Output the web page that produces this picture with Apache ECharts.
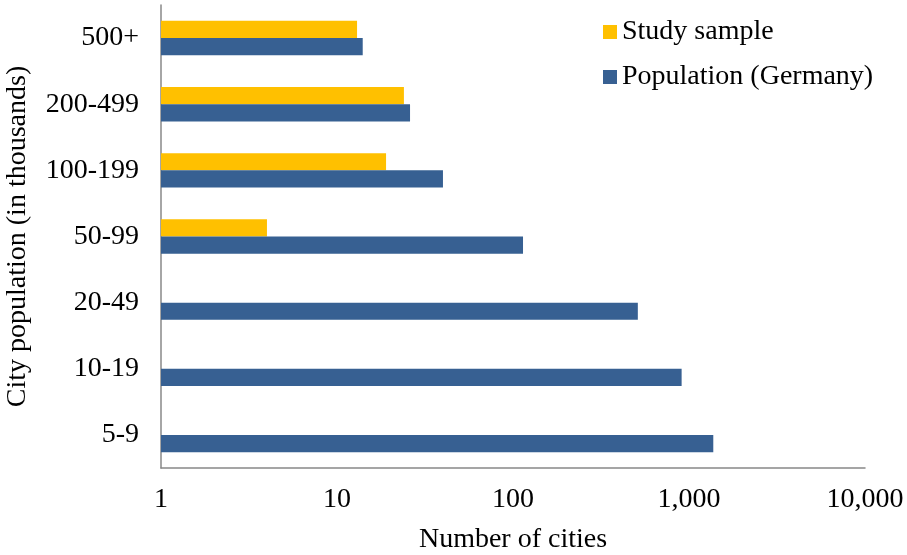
<!DOCTYPE html>
<html>
<head>
<meta charset="utf-8">
<script src="https://cdn.jsdelivr.net/npm/echarts@6/dist/echarts.min.js"></script>
<style>
  html, body { margin: 0; padding: 0; background: #fff; }
  #chart { width: 907px; height: 555px; }
</style>
</head>
<body>
<div id="chart"></div>
<script>
// City size classes (thousands of inhabitants), bottom to top
const sizeClasses = ['5-9', '10-19', '20-49', '50-99', '100-199', '200-499', '500+'];
// Number of cities in the study sample per size class (none below 50k)
const studySample = [null, null, null, 4, 19, 24, 13];
// Number of cities in Germany per size class
const populationGermany = [1374, 908, 512, 114, 40, 26, 14];
// X-axis ticks
const xTicks = [1, 10, 100, 1000, 10000];

const font = 'Liberation Serif, Times New Roman, serif';
const fs = 28;
const chart = echarts.init(document.getElementById('chart'), null, { renderer: 'canvas' });

chart.setOption({
  animation: false,
  textStyle: { fontFamily: font },
  legend: {
    orient: 'vertical',
    left: 598,
    top: 13,
    itemWidth: 14,
    itemHeight: 14,
    itemGap: 17,
    icon: 'rect',
    textStyle: { fontFamily: font, fontSize: fs, color: '#000' },
    data: ['Study sample', 'Population (Germany)']
  },
  grid: { left: 161, right: 42, top: 5, bottom: 87, outerBoundsMode: 'none' },
  xAxis: {
    type: 'log',
    logBase: 10,
    min: xTicks[0],
    max: xTicks[xTicks.length - 1],
    name: 'Number of cities',
    nameLocation: 'middle',
    nameGap: 58,
    nameTextStyle: { fontFamily: font, fontSize: fs, color: '#000' },
    axisLine: { show: true, lineStyle: { color: '#888', width: 1.5 } },
    axisTick: { show: false },
    splitLine: { show: false },
    minorTick: { show: false },
    axisLabel: {
      fontFamily: font, fontSize: fs, color: '#000', margin: 18,
      formatter: v => Number(v).toLocaleString('en-US')
    }
  },
  yAxis: {
    type: 'category',
    data: sizeClasses,
    name: 'City population (in thousands)',
    nameLocation: 'middle',
    nameGap: 129,
    nameTextStyle: { fontFamily: font, fontSize: fs, color: '#000' },
    axisLine: { show: true, lineStyle: { color: '#888', width: 1.5 } },
    axisTick: { show: false },
    axisLabel: { fontFamily: font, fontSize: fs, color: '#000', margin: 22, padding: [6, 0, 0, 0] }
  },
  series: [
    {
      name: 'Study sample',
      type: 'bar',
      data: studySample,
      itemStyle: { color: '#FFC000' },
      barGap: '0%',
      barCategoryGap: '48%'
    },
    {
      name: 'Population (Germany)',
      type: 'bar',
      data: populationGermany,
      itemStyle: { color: '#376092' },
      barGap: '0%',
      barCategoryGap: '48%'
    }
  ]
});
</script>
</body>
</html>
